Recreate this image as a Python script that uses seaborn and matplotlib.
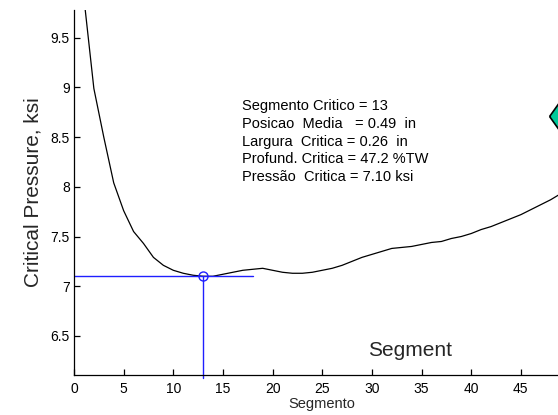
import numpy as np
import pandas as pd
import matplotlib
matplotlib.use("Agg")
import matplotlib.pyplot as plt
import seaborn as sns

# Critical pressure per segment
segments = list(range(1, 51))
pressure = [9.90, 8.99, 8.50, 8.04, 7.76, 7.55, 7.43, 7.29, 7.21, 7.16,
            7.13, 7.11, 7.10, 7.10, 7.12, 7.14, 7.16, 7.17, 7.18, 7.16,
            7.14, 7.13, 7.13, 7.14, 7.16, 7.18, 7.21, 7.25, 7.29, 7.32,
            7.35, 7.38, 7.39, 7.40, 7.42, 7.44, 7.45, 7.48, 7.50, 7.53,
            7.57, 7.60, 7.64, 7.68, 7.72, 7.77, 7.82, 7.87, 7.93, 7.99]

crit_segment = 13
crit_pressure = 7.10
info_lines = ["Segmento Critico = 13",
              "Posicao  Media   = 0.49  in",
              "Largura  Critica = 0.26  in",
              "Profund. Critica = 47.2 %TW",
              "Pressão  Critica = 7.10 ksi"]
xticks = [0, 5, 10, 15, 20, 25, 30, 35, 40, 45]
yticks = [6.5, 7, 7.5, 8, 8.5, 9, 9.5]

sns.set_style("white")
plt.rcParams["font.family"] = ["Liberation Sans", "DejaVu Sans"]

W, H = 558, 415
fig = plt.figure(figsize=(W / 100, H / 100), dpi=100)
ax = fig.add_axes([74 / W, 40 / H, 496.5 / W, 365 / H])

df = pd.DataFrame({"Segmento": segments, "Pressure": pressure})
sns.lineplot(data=df, x="Segmento", y="Pressure", ax=ax, color="black", lw=0.9)

ax.set_xlim(0, 50)
ax.set_ylim(6.106, 9.78)

# critical point crosshair
ax.plot([0, 18], [crit_pressure, crit_pressure], color="#1f1fff", lw=1.0)
ax.plot([crit_segment, crit_segment], [6.075, crit_pressure], color="#1f1fff",
        lw=1.0, clip_on=False)
ax.plot([crit_segment], [crit_pressure], marker="o", ms=6.5, mfc="none",
        mec="#1f1fff", mew=1.0)

# summary text
y0 = 8.769
for i, line in enumerate(info_lines):
    ax.text(16.92, y0 - i * 0.177, line, fontsize=10.5, va="baseline",
            ha="left", color="black")

ax.text(33.8, 6.30, "Segment", fontsize=15, ha="center", va="baseline")

# marker at right edge
diamond = [(-1, 0), (0, 1.4), (1, 0), (0, -1.4), (-1, 0)]
ax.plot([49.04], [8.716], marker=diamond, ms=24, mfc="#00c99a", mec="black",
        mew=1.2, clip_on=False, ls="none")

ax.set_xticks(xticks)
ax.set_yticks(yticks)
ax.set_yticklabels(["6.5", "7", "7.5", "8", "8.5", "9", "9.5"])
ax.tick_params(bottom=True, left=True, direction="in", length=4, width=0.9,
               labelsize=10, colors="black")
ax.tick_params(axis="x", pad=5)
ax.tick_params(axis="y", pad=3)
ax.set_xlabel("Segmento", fontsize=10.5, labelpad=1)
ax.set_ylabel("Critical Pressure, ksi", fontsize=15, labelpad=6)

sns.despine(ax=ax, top=True, right=True)
for s in ("left", "bottom"):
    ax.spines[s].set_color("black")
    ax.spines[s].set_linewidth(0.9)

fig.savefig("out.png", dpi=100)
